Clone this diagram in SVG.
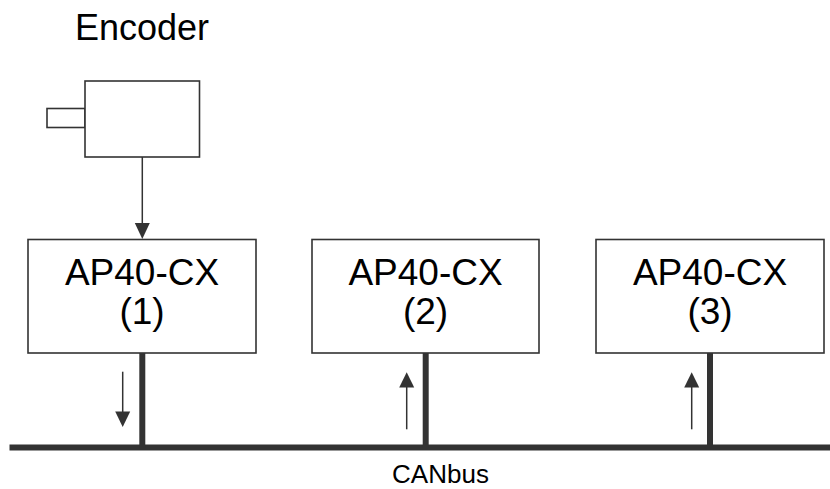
<svg xmlns="http://www.w3.org/2000/svg" width="830" height="489" viewBox="0 0 830 489">
<style>
.box{fill:#fff;stroke:#333;stroke-width:1.6}
.lbl{font-family:"Liberation Sans",Arial,sans-serif;font-size:37px;fill:#000;text-anchor:middle}
.bus{fill:none;stroke:#333;stroke-width:6}
.arr{fill:none;stroke:#333;stroke-width:1.5}
.head{fill:#333;stroke:none}
</style>
<g id="encoder">
<text class="lbl" x="142" y="40" style="font-size:36px">Encoder</text>
<rect class="box" x="47" y="108.5" width="38" height="19"/>
<rect class="box" x="85" y="81" width="114.5" height="76"/>
</g>
<g id="node1">
<rect class="box" x="28" y="239.5" width="228" height="113.5"/>
<text class="lbl" x="142" y="285">AP40-CX</text>
<text class="lbl" x="142" y="324">(1)</text>
</g>
<g id="node2">
<rect class="box" x="312" y="239.5" width="227" height="113.5"/>
<text class="lbl" x="425.5" y="285">AP40-CX</text>
<text class="lbl" x="425.5" y="324">(2)</text>
</g>
<g id="node3">
<rect class="box" x="596" y="239.5" width="228" height="113.5"/>
<text class="lbl" x="710" y="285">AP40-CX</text>
<text class="lbl" x="710" y="324">(3)</text>
</g>
<g id="canbus">
<line class="bus" x1="9.5" y1="447.5" x2="830" y2="447.5"/>
<text class="lbl" x="440.5" y="483" style="font-size:26px">CANbus</text>
</g>
<g id="connectors">
<line class="arr" x1="142.3" y1="157" x2="142.3" y2="226"/>
<polygon class="head" points="134.8,223 149.8,223 142.3,239"/>
<line class="bus" x1="142.3" y1="353" x2="142.3" y2="448"/>
<line class="bus" x1="425.7" y1="353" x2="425.7" y2="448"/>
<line class="bus" x1="710" y1="353" x2="710" y2="448"/>
<line class="arr" x1="122.7" y1="371.7" x2="122.7" y2="414"/>
<polygon class="head" points="115.2,411.5 130.2,411.5 122.7,427"/>
<line class="arr" x1="406.7" y1="429.3" x2="406.7" y2="385"/>
<polygon class="head" points="399.2,387.5 414.2,387.5 406.7,372.3"/>
<line class="arr" x1="691.7" y1="429.3" x2="691.7" y2="385"/>
<polygon class="head" points="684.2,387.5 699.2,387.5 691.7,372.3"/>
</g>
</svg>
